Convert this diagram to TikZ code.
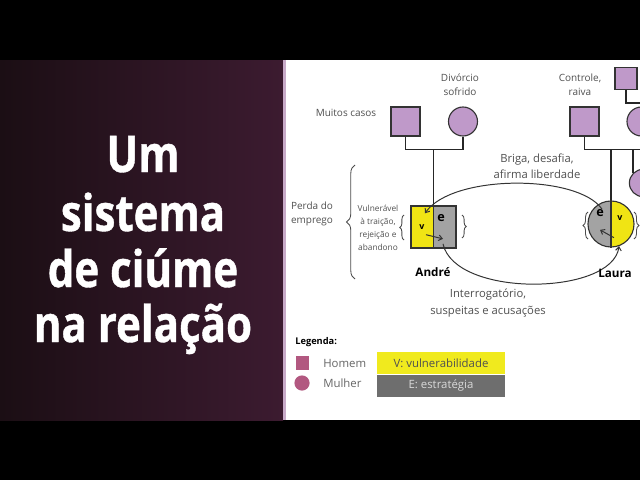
\documentclass[tikz,border=0pt]{standalone}
\usepackage{fontspec}
\setmainfont{Open Sans}
\newfontfamily\titlefont{Open Sans}[FakeStretch=0.83,BoldFeatures={FakeBold=0.8}]
\usetikzlibrary{arrows.meta,calc,decorations.pathreplacing}

\definecolor{fundoA}{RGB}{27,14,20}
\definecolor{fundoB}{RGB}{60,27,48}
\definecolor{borda}{RGB}{200,170,200}
\definecolor{lilas}{RGB}{191,153,201}
\definecolor{amarelo}{RGB}{240,228,20}
\definecolor{cinza}{RGB}{163,163,163}
\definecolor{amareloLeg}{RGB}{240,234,30}
\definecolor{cinzaLeg}{RGB}{110,110,110}
\definecolor{mauve}{RGB}{178,88,128}
\definecolor{texto}{RGB}{80,80,80}

\begin{document}
\begin{tikzpicture}[x=0.025cm,y=-0.025cm,
    titulo/.style={anchor=base,text=white,inner sep=0pt,font=\titlefont\bfseries\fontsize{36}{40}\selectfont},
    homem/.style={draw=black!80,fill=lilas,line width=0.8pt,minimum size=0.725cm,inner sep=0pt},
    mulher/.style={circle,draw=black!80,fill=lilas,line width=0.8pt,minimum size=0.725cm,inner sep=0pt},
    rotulo/.style={align=center,inner sep=0pt,text=texto,font=\fontsize{7.1}{9.9}\selectfont},
    fala/.style={align=center,inner sep=0pt,text=texto,font=\fontsize{8}{11.6}\selectfont},
    nome/.style={inner sep=0pt,font=\bfseries\fontsize{8.3}{10}\selectfont},
    letraE/.style={inner sep=0pt,font=\bfseries\fontsize{9}{10}\selectfont},
    letraV/.style={inner sep=0pt,font=\bfseries\fontsize{6.3}{8}\selectfont},
    linha/.style={line width=1pt,black!85},
    seta/.style={line width=0.7pt,black!80,-{Straight Barb[length=2.6pt,width=4pt]}},
    chave/.style={draw=black!70,line width=0.6pt,decorate},
    legtxt/.style={anchor=west,inner sep=0pt,text=black!60,font=\fontsize{8.1}{10}\selectfont},
    legbox/.style={minimum width=3.2cm,minimum height=0.55cm,inner sep=0pt,font=\fontsize{8.1}{10}\selectfont}
  ]
    \useasboundingbox (0,0) rectangle (640,480);

    % fundo
    \fill[black] (0,0) rectangle (640,60);
    \fill[black] (0,420) rectangle (640,480);
    \shade[left color=fundoA,right color=fundoB] (0,60) rectangle (283,420);
    \fill[borda] (283,60) rectangle (286,420);
    \fill[white] (286,60) rectangle (640,420);

    % titulo
    \node[titulo] (t1) at (143,172) {Um};
    \node[titulo] (t2) at (143,231) {sistema};
    \node[titulo] (t3) at (143,287) {de ciúme};
    \node[titulo] (t4) at (143,342) {na relação};

    \begin{scope}
    \clip (286,60) rectangle (640,420);

    % pais
    \node[homem] (paiAndre) at (405.5,121.5) {};
    \node[mulher] (maeAndre) at (463,121.5) {};
    \node[homem] (paiLaura) at (584.5,121.5) {};
    \node[mulher] (maeLaura) at (641.5,121.5) {};
    \node[homem,minimum size=0.55cm] (avoLaura) at (626,78.5) {};
    \node[mulher,minimum size=0.68cm] (irmaLaura) at (643,183) {};
    \coordinate (avoLinha) at (680,103);

    % casal
    \node[draw=black!80,line width=0.8pt,fill=amarelo,minimum width=1.125cm,minimum height=1.05cm,inner sep=0pt,
      path picture={\fill[cinza] (path picture bounding box.north) rectangle (path picture bounding box.south east);}] (andre) at (433.5,227) {};
    \draw[line width=0.8pt,black!80] (andre.north) -- (andre.south);
    \node[circle,draw=black!80,line width=0.8pt,fill=amarelo,minimum size=1.15cm,inner sep=0pt,
      path picture={\fill[cinza] (path picture bounding box.north west) rectangle (path picture bounding box.south);}] (laura) at (611,224) {};
    \draw[line width=0.8pt,black!80] (laura.north) -- (laura.south);

    \node[letraE] (eAndre) at (441,218) {e};
    \node[letraV] (vAndre) at (422,227) {v};
    \node[letraE] (eLaura) at (600,213) {e};
    \node[letraV] (vLaura) at (620,218) {v};

    % linhas de familia
    \draw[linha] (paiAndre.south) -- ++(0,13) coordinate (ja) -| (maeAndre.south);
    \draw[linha] (andre.north |- ja) -- (andre.north);
    \draw[linha] (paiLaura.south) -- ++(0,13) coordinate (jl) -| (maeLaura.south);
    \draw[linha] (laura.north |- jl) -- (laura.north);
    \draw[linha] (irmaLaura.135 |- jl) -- (irmaLaura.135);
    \draw[linha] (avoLaura.south) |- (avoLinha);

    % ciclo
    \coordinate (aChega) at ($(vAndre.north)+(3,-11)$);
    \coordinate (aSai) at ($(eAndre.south)+(2,22)$);
    \coordinate (lChega) at ($(laura.-70)$);
    \coordinate (lSai) at ($(eLaura.north)+(2,0)$);
    \draw[seta] (lSai) .. controls (578,174) and (452,174) .. (aChega);
    \draw[seta] (aSai) .. controls (455,298) and (612,296) .. (lChega);
    \draw[seta] ($(vAndre.south)+(4,5)$) -- ($(aSai)+(0,-5)$);
    \draw[seta] ($(vLaura.south)+(-6,17)$) -- ($(eLaura.south)+(0,13)$);

    % chaves
    \draw[chave,decoration={brace,amplitude=6pt}] (355,279) -- (355,165);
    \draw[chave,decoration={brace,amplitude=3pt}] (404,240) -- (404,215);
    \draw[chave,decoration={brace,amplitude=3pt}] (462,215) -- (462,238);
    \draw[chave,decoration={brace,amplitude=3.5pt}] (588,239) -- (588,212);
    \draw[chave,decoration={brace,amplitude=3.5pt}] (634,212) -- (634,239);
    \end{scope}

    % textos
    \node[rotulo] (muitos) at (346,113) {Muitos casos};
    \node[rotulo] (divorcio) at (460,85) {Divórcio\\sofrido};
    \node[rotulo] (controle) at (580,85) {Controle,\\raiva};
    \node[rotulo] (perda) at (312,214) {Perda do\\emprego};
    \node[rotulo,font=\fontsize{5.9}{9.4}\selectfont] (vulner) at (378,228) {Vulnerável\\à traição,\\rejeição e\\abandono};
    \node[fala] (briga) at (537,166.5) {Briga, desafia,\\afirma liberdade};
    \node[fala] (interrog) at (488,303) {Interrogatório,\\suspeitas e acusações};
    \node[nome] (nomeAndre) at (433,272) {André};
    \node[nome] (nomeLaura) at (615,273) {Laura};

    % legenda
    \node[anchor=west,inner sep=0pt,font=\bfseries\fontsize{6.6}{8}\selectfont] (legenda) at (295,342) {Legenda:};
    \node[fill=mauve,minimum size=0.34cm,inner sep=0pt] (legHomem) at (302.5,363) {};
    \node[circle,fill=mauve,minimum size=0.38cm,inner sep=0pt] (legMulher) at (302,383) {};
    \node[legtxt] (txtHomem) at (323,363) {Homem};
    \node[legtxt] (txtMulher) at (323,383) {Mulher};
    \node[legbox,fill=amareloLeg,text=texto] (legV) at (441,363) {V: vulnerabilidade};
    \node[legbox,fill=cinzaLeg,text=black!15] (legE) at (441,386) {E: estratégia};
  \end{tikzpicture}
\end{document}
